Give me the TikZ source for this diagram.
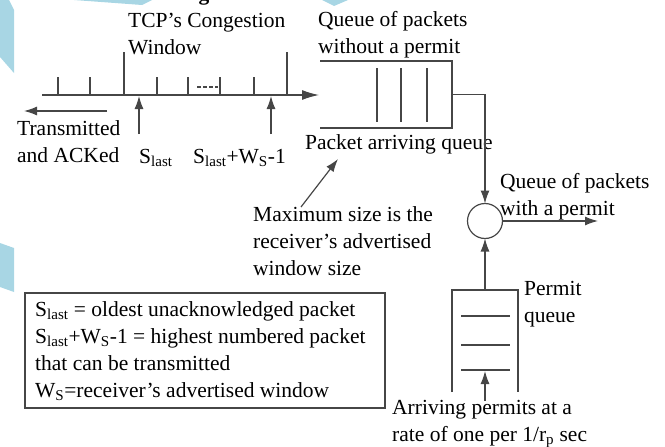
\documentclass[tikz,border=0pt]{standalone}
\usepackage{fontspec}
\setmainfont{Liberation Serif}
\usepackage{xcolor}
\usetikzlibrary{arrows.meta,positioning,calc}
\definecolor{deco}{RGB}{168,214,228}
\definecolor{ink}{RGB}{70,70,70}
\newcommand\fs{\fontsize{21.5}{27}\selectfont}

\begin{document}
\begin{tikzpicture}[
  x=1pt,y=-1pt,
  lbl/.style={font=\fs,inner sep=0pt,anchor=base west,align=left},
  ln/.style={draw=ink,line width=1.2pt},
  >={Latex[length=13pt,width=9pt]},
  nd/.style={inner sep=0pt,outer sep=0pt}
]
\useasboundingbox (0,0) rectangle (665,447);
\fill[deco] (0,0) -- (9,0) -- (14,10) -- (14,73) -- (0,57) -- cycle;
\fill[deco] (0,243) -- (14,248) -- (14,292) -- (0,287) -- cycle;
\fill[deco] (74,0) -- (152,0) -- (142,5) -- cycle;
\fill[deco] (322,0) -- (348,0) -- (334,6) -- cycle;
\node[font=\fs\bfseries,inner sep=0pt,anchor=base] (ttl) at (204,0) {g};

\node[lbl] (cwnd) at (128,54) {TCP's Congestion\\Window};
\node[lbl] (nopm) at (318,53) {Queue of packets\\without a permit};
\node[lbl] (txak) at (17,162) {Transmitted\\and ACKed};
\node[lbl] (slst) at (139,163) {S\textsubscript{last}};
\node[lbl] (sedg) at (193,163) {S\textsubscript{last}+W\textsubscript{S}-1};
\node[lbl] (paq)  at (305,149) {Packet arriving queue};
\node[lbl] (maxs) at (253,275) {Maximum size is the\\receiver's advertised\\window size};
\node[lbl] (wipm) at (500,215) {Queue of packets\\with a permit};
\node[lbl] (pmlb) at (524,322) {Permit\\queue};
\node[lbl] (arrp) at (392,441) {Arriving permits at a\\rate of one per 1/r\textsubscript{p} sec};
\node[lbl] (lgnd) at (35,397) {S\textsubscript{last} = oldest unacknowledged packet\\
  S\textsubscript{last}+W\textsubscript{S}-1 = highest numbered packet\\
  that can be transmitted\\W\textsubscript{S}=receiver's advertised window};
\draw[ln] (25,293) rectangle (385,408);

\coordinate (axL) at (42,95);
\coordinate (axR) at (319,95);
\draw[ln,-{Latex[length=17pt,width=10pt]}] (axL) -- (axR);
\foreach \x in {58,90,157,188,220,254} \draw[ln] (\x,95) -- (\x,77);
\foreach \x in {124,287} \draw[ln] (\x,95) -- (\x,52);
\draw[ln,dash pattern=on 4pt off 2pt] (197,87) -- (218,87);
\coordinate (ak1) at (107,111);
\coordinate (ak2) at (24,111);
\draw[ln,->] (ak1) -- (ak2);
\coordinate (up1) at (139,134);
\coordinate (up2) at (271,134);
\draw[ln,->] (up1) -- (139,96);
\draw[ln,->] (up2) -- (271,96);

\node[nd,minimum width=132pt,minimum height=67pt] (pktq) at (386,94.5) {};
\draw[ln] (pktq.north west) -- (pktq.north east) -- (pktq.south east) -- (pktq.south west);
\foreach \x in {377,401,427} \draw[ln] (\x,68) -- (\x,122);

\node[nd,circle,draw=ink,line width=1.2pt,minimum size=35pt] (perm) at (485,221) {};
\draw[ln,->] (pktq.east) -| (perm.north);
\coordinate (pout) at (598,221);
\draw[ln,->] (perm.east) -- (pout);

\node[nd,minimum width=66pt,minimum height=102pt] (pmq) at (485,341) {};
\draw[ln] (pmq.south west) -- (pmq.north west) -- (pmq.north east) -- (pmq.south east);
\foreach \y in {316,345,370} \draw[ln] (461,\y) -- (510,\y);
\draw[ln,->] (pmq.north) -- (perm.south);
\coordinate (pin) at (485,401);
\draw[ln,->] (pin) -- (485,371);

\coordinate (mxa) at (301,207);
\coordinate (mxb) at (338,159);
\draw[ln,->] (mxa) -- (mxb);
\end{tikzpicture}
\end{document}
